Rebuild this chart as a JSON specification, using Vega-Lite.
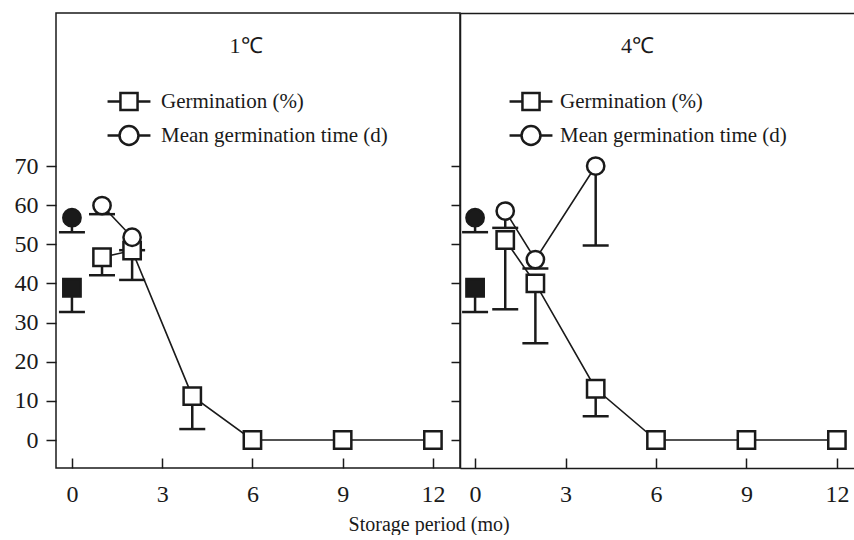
{
  "$schema": "https://vega.github.io/schema/vega-lite/v6.json",
  "padding": {"left": 13, "top": 12, "right": 0, "bottom": 0},
  "autosize": {"type": "pad"},
  "bounds": "flush",
  "spacing": 0,
  "background": "white",
  "resolve": {"scale": {"stroke": "independent"}, "legend": {"stroke": "independent"}},
  "datasets": {
    "g": [
      {"panel": "1℃", "series": "Germination (%)", "group": "control", "month": 0, "value": 38.9, "lower": 32.7},
      {"panel": "1℃", "series": "Mean germination time (d)", "group": "control", "month": 0, "value": 56.8, "lower": 53.1},
      {"panel": "1℃", "series": "Germination (%)", "group": "stored", "month": 1, "value": 46.7, "lower": 42.1},
      {"panel": "1℃", "series": "Germination (%)", "group": "stored", "month": 2, "value": 48.4, "lower": 40.9},
      {"panel": "1℃", "series": "Germination (%)", "group": "stored", "month": 4, "value": 11.2, "lower": 2.8},
      {"panel": "1℃", "series": "Germination (%)", "group": "stored", "month": 6, "value": 0, "lower": null},
      {"panel": "1℃", "series": "Germination (%)", "group": "stored", "month": 9, "value": 0, "lower": null},
      {"panel": "1℃", "series": "Germination (%)", "group": "stored", "month": 12, "value": 0, "lower": null},
      {"panel": "1℃", "series": "Mean germination time (d)", "group": "stored", "month": 1, "value": 59.9, "lower": 57.7},
      {"panel": "1℃", "series": "Mean germination time (d)", "group": "stored", "month": 2, "value": 51.8, "lower": 48.5},
      {"panel": "4℃", "series": "Germination (%)", "group": "control", "month": 0, "value": 38.9, "lower": 32.7},
      {"panel": "4℃", "series": "Mean germination time (d)", "group": "control", "month": 0, "value": 56.8, "lower": 53.1},
      {"panel": "4℃", "series": "Germination (%)", "group": "stored", "month": 1, "value": 51.1, "lower": 33.4},
      {"panel": "4℃", "series": "Germination (%)", "group": "stored", "month": 2, "value": 40.0, "lower": 24.7},
      {"panel": "4℃", "series": "Germination (%)", "group": "stored", "month": 4, "value": 13.1, "lower": 6.1},
      {"panel": "4℃", "series": "Germination (%)", "group": "stored", "month": 6, "value": 0, "lower": null},
      {"panel": "4℃", "series": "Germination (%)", "group": "stored", "month": 9, "value": 0, "lower": null},
      {"panel": "4℃", "series": "Germination (%)", "group": "stored", "month": 12, "value": 0, "lower": null},
      {"panel": "4℃", "series": "Mean germination time (d)", "group": "stored", "month": 1, "value": 58.5, "lower": 54.2},
      {"panel": "4℃", "series": "Mean germination time (d)", "group": "stored", "month": 2, "value": 46.1, "lower": 43.8},
      {"panel": "4℃", "series": "Mean germination time (d)", "group": "stored", "month": 4, "value": 70.0, "lower": 49.7}
    ]
  },
  "title": {"text": "Storage period (mo)", "orient": "bottom", "anchor": "middle", "dx": -5, "offset": 8, "font": "Liberation Serif", "fontSize": 20, "fontWeight": "normal", "color": "#1a1a1a"},
  "hconcat": [
    {
      "width": 404,
      "height": 455,
      "view": {"stroke": "#1a1a1a", "strokeWidth": 1.5},
      "title": {"text": "1℃", "anchor": "middle", "offset": -55, "baseline": "middle", "dx": -12, "fontSize": 22, "fontWeight": "normal", "font": "Liberation Serif", "color": "#1a1a1a"},
      "data": {"name": "g"},
      "transform": [{"filter": "datum.panel === '1℃'"}],
      "encoding": {
        "x": {"field": "month", "type": "quantitative", "scale": {"domain": [-0.53, 12.9], "nice": false, "zero": false},
              "axis": {"values": [0, 3, 6, 9, 12], "tickSize": -10, "domain": false, "labelFontSize": 24, "labelPadding": 24, "title": null}},
        "y": {"field": "value", "type": "quantitative", "scale": {"domain": [-7.15, 109.1], "nice": false, "zero": false},
              "axis": {"values": [0, 10, 20, 30, 40, 50, 60, 70], "tickSize": 10, "domain": false, "labelFontSize": 24, "labelPadding": 8, "title": null}}
      },
      "layer": [
        {
          "transform": [{"filter": "datum.group === 'stored'"}],
          "mark": {"type": "line", "strokeWidth": 1.6},
          "encoding": {
            "order": {"field": "month", "type": "quantitative"},
            "stroke": {"field": "series", "type": "nominal",
              "scale": {"domain": ["Germination (%)", "Mean germination time (d)"], "range": ["#1a1a1a", "#1a1a1a"]},
              "legend": {"orient": "none", "legendX": 56.5, "legendY": 72, "title": null, "symbolSize": 900, "symbolStrokeWidth": 2.5,
                "labelFont": "Liberation Serif", "labelFontSize": 21, "labelColor": "#1a1a1a", "labelOffset": 15.5, "labelLimit": 500, "rowPadding": 3, "padding": 0,
                "encode": {"symbols": {"update": {
                  "shape": {"signal": "datum.value === 'Germination (%)' ? 'M-1.43,0H-0.57M0.57,0H1.43M-0.57,-0.57H0.57V0.57H-0.57Z' : 'M-1.43,0H-0.63M0.63,0H1.43M-0.63,0A0.63,0.63,0,1,0,0.63,0A0.63,0.63,0,1,0,-0.63,0Z'"},
                  "fill": {"value": "white"}, "fillOpacity": {"value": 1}}}}}}
          }
        },
        {
          "transform": [{"filter": "datum.lower != null"}],
          "mark": {"type": "rule", "strokeWidth": 2.5, "color": "#1a1a1a"},
          "encoding": {"y2": {"field": "lower"}}
        },
        {
          "transform": [{"filter": "datum.lower != null"}],
          "mark": {"type": "tick", "orient": "horizontal", "size": 26, "thickness": 2.5, "color": "#1a1a1a", "opacity": 1},
          "encoding": {"y": {"field": "lower", "type": "quantitative"}}
        },
        {
          "transform": [{"filter": "datum.series === 'Germination (%)'"}],
          "mark": {"type": "point", "shape": "square", "filled": false, "strokeWidth": 2.5, "size": 300, "opacity": 1, "stroke": "#1a1a1a"},
          "encoding": {
            "fill": {"field": "group", "type": "nominal", "scale": {"domain": ["control", "stored"], "range": ["#1a1a1a", "white"]}, "legend": null}
          }
        },
        {
          "transform": [{"filter": "datum.series === 'Mean germination time (d)'"}],
          "mark": {"type": "point", "shape": "circle", "filled": false, "strokeWidth": 2.5, "size": 300, "opacity": 1, "stroke": "#1a1a1a"},
          "encoding": {
            "fill": {"field": "group", "type": "nominal", "scale": {"domain": ["control", "stored"], "range": ["#1a1a1a", "white"]}, "legend": null}
          }
        }
      ]
    },
    {
      "width": 395,
      "height": 455,
      "title": {"text": "4℃", "anchor": "middle", "offset": -55, "baseline": "middle", "dx": -20, "fontSize": 22, "fontWeight": "normal", "font": "Liberation Serif", "color": "#1a1a1a"},
      "data": {"name": "g"},
      "transform": [{"filter": "datum.panel === '4℃'"}],
      "resolve": {"axis": {"x": "independent"}},
      "encoding": {
        "y": {"field": "value", "type": "quantitative", "scale": {"domain": [-7.15, 109.1], "nice": false, "zero": false},
              "axis": {"values": [0, 10, 20, 30, 40, 50, 60, 70], "tickSize": 9, "domain": true, "labels": false, "title": null}}
      },
      "layer": [
        {
          "transform": [{"filter": "datum.group === 'stored'"}],
          "mark": {"type": "line", "strokeWidth": 1.6},
          "encoding": {
            "x": {"field": "month", "type": "quantitative", "scale": {"domain": [-0.5, 12.6], "nice": false, "zero": false},
                  "axis": {"values": [0, 3, 6, 9, 12], "tickSize": -10, "domain": true, "labelFontSize": 24, "labelPadding": 24, "title": null}},
            "order": {"field": "month", "type": "quantitative"},
            "stroke": {"field": "series", "type": "nominal",
              "scale": {"domain": ["Germination (%)", "Mean germination time (d)"], "range": ["#1a1a1a", "#1a1a1a"]},
              "legend": {"orient": "none", "legendX": 54.5, "legendY": 72, "title": null, "symbolSize": 900, "symbolStrokeWidth": 2.5,
                "labelFont": "Liberation Serif", "labelFontSize": 21, "labelColor": "#1a1a1a", "labelOffset": 12.5, "labelLimit": 500, "rowPadding": 3, "padding": 0,
                "encode": {"symbols": {"update": {
                  "shape": {"signal": "datum.value === 'Germination (%)' ? 'M-1.43,0H-0.57M0.57,0H1.43M-0.57,-0.57H0.57V0.57H-0.57Z' : 'M-1.43,0H-0.63M0.63,0H1.43M-0.63,0A0.63,0.63,0,1,0,0.63,0A0.63,0.63,0,1,0,-0.63,0Z'"},
                  "fill": {"value": "white"}, "fillOpacity": {"value": 1}}}}}}
          }
        },
        {
          "transform": [{"filter": "datum.lower != null"}],
          "mark": {"type": "rule", "strokeWidth": 2.5, "color": "#1a1a1a"},
          "encoding": {
            "x": {"field": "month", "type": "quantitative", "axis": null},
            "y2": {"field": "lower"}
          }
        },
        {
          "transform": [{"filter": "datum.lower != null"}],
          "mark": {"type": "tick", "orient": "horizontal", "size": 26, "thickness": 2.5, "color": "#1a1a1a", "opacity": 1},
          "encoding": {
            "x": {"field": "month", "type": "quantitative", "axis": null},
            "y": {"field": "lower", "type": "quantitative"}
          }
        },
        {
          "transform": [{"filter": "datum.series === 'Germination (%)'"}],
          "mark": {"type": "point", "shape": "square", "filled": false, "strokeWidth": 2.5, "size": 300, "opacity": 1, "stroke": "#1a1a1a"},
          "encoding": {
            "x": {"field": "month", "type": "quantitative", "axis": {"orient": "top", "labels": false, "ticks": false, "domain": true, "title": null}},
            "fill": {"field": "group", "type": "nominal", "scale": {"domain": ["control", "stored"], "range": ["#1a1a1a", "white"]}, "legend": null}
          }
        },
        {
          "transform": [{"filter": "datum.series === 'Mean germination time (d)'"}],
          "mark": {"type": "point", "shape": "circle", "filled": false, "strokeWidth": 2.5, "size": 300, "opacity": 1, "stroke": "#1a1a1a"},
          "encoding": {
            "x": {"field": "month", "type": "quantitative", "axis": null},
            "fill": {"field": "group", "type": "nominal", "scale": {"domain": ["control", "stored"], "range": ["#1a1a1a", "white"]}, "legend": null}
          }
        }
      ]
    }
  ],
  "config": {
    "font": "Liberation Serif",
    "view": {"stroke": null},
    "axis": {"grid": false, "labelFont": "Liberation Serif", "labelColor": "#1a1a1a", "tickColor": "#1a1a1a", "domainColor": "#1a1a1a", "tickWidth": 1.5, "domainWidth": 1.5}
  }
}
